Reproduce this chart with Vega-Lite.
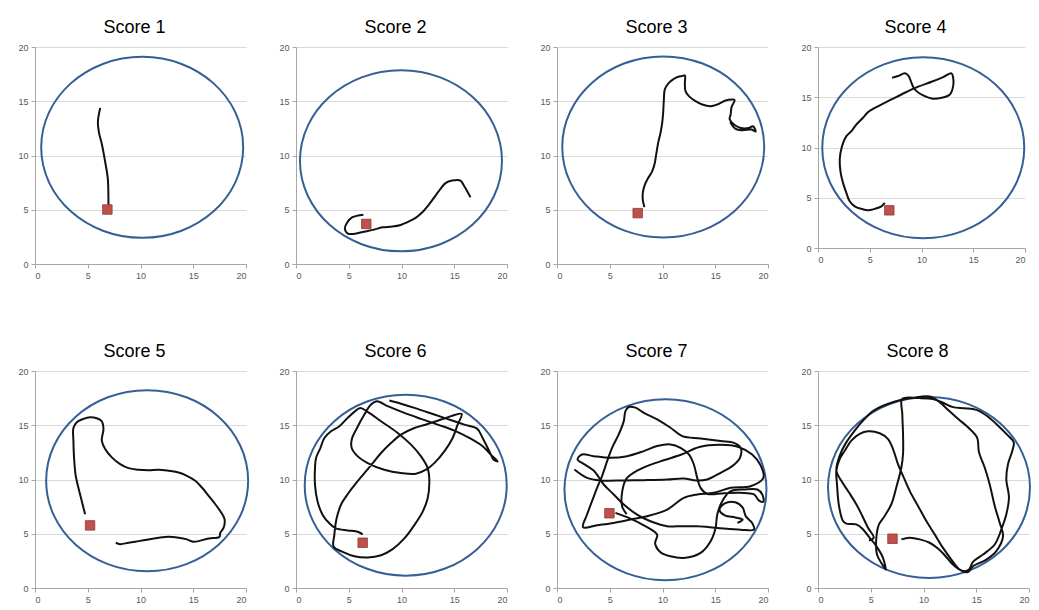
{
"$schema":"https://vega.github.io/schema/vega-lite/v6.json",
"background":"white",
"padding":{"left":17,"top":19,"right":5,"bottom":5},
"columns":4,
"spacing":{"row":107,"column":50},
"bounds":"flush",
"datasets":{
"arenas":[
{"panel":1,"cx":10.16,"cy":10.75,"mx":6.86,"my":5.02},
{"panel":2,"cx":9.95,"cy":9.51,"mx":6.66,"my":3.69},
{"panel":3,"cx":10.07,"cy":10.79,"mx":7.65,"my":4.69},
{"panel":4,"cx":10.17,"cy":9.97,"mx":6.89,"my":3.75},
{"panel":5,"cx":10.63,"cy":9.89,"mx":5.22,"my":5.77},
{"panel":6,"cx":10.4,"cy":9.48,"mx":6.32,"my":4.17},
{"panel":7,"cx":10.28,"cy":9.06,"mx":4.97,"my":6.89},
{"panel":8,"cx":10.52,"cy":9.26,"mx":7.06,"my":4.54}],
"p1":[{"i":1,"x":6.18,"y":14.39},{"i":2,"x":5.96,"y":13.1},{"i":3,"x":6.05,"y":12.18},{"i":4,"x":6.36,"y":10.95},{"i":5,"x":6.65,"y":9.42},{"i":6,"x":6.9,"y":7.88},{"i":7,"x":6.96,"y":6.04},{"i":8,"x":6.96,"y":5.12}],
"p2":[{"i":1,"x":6.39,"y":4.55},{"i":2,"x":5.35,"y":4.31},{"i":3,"x":4.82,"y":3.78},{"i":4,"x":4.63,"y":3.23},{"i":5,"x":4.88,"y":2.83},{"i":6,"x":5.45,"y":2.77},{"i":7,"x":6.46,"y":2.98},{"i":8,"x":7.4,"y":3.17},{"i":9,"x":8.19,"y":3.38},{"i":10,"x":9.13,"y":3.45},{"i":11,"x":9.92,"y":3.6},{"i":12,"x":10.55,"y":3.85},{"i":13,"x":11.34,"y":4.25},{"i":14,"x":11.97,"y":4.77},{"i":15,"x":12.6,"y":5.48},{"i":16,"x":13.23,"y":6.31},{"i":17,"x":13.7,"y":6.92},{"i":18,"x":14.17,"y":7.45},{"i":19,"x":14.8,"y":7.69},{"i":20,"x":15.59,"y":7.69},{"i":21,"x":15.91,"y":7.23},{"i":22,"x":16.28,"y":6.62},{"i":23,"x":16.54,"y":6.15}],
"p3":[{"i":1,"x":8.29,"y":5.24},{"i":2,"x":8.13,"y":5.92},{"i":3,"x":8.13,"y":6.53},{"i":4,"x":8.32,"y":7.3},{"i":5,"x":8.64,"y":7.92},{"i":6,"x":9.02,"y":8.54},{"i":7,"x":9.27,"y":9.31},{"i":8,"x":9.4,"y":10.08},{"i":9,"x":9.59,"y":11.16},{"i":10,"x":9.81,"y":12.08},{"i":11,"x":9.97,"y":13.0},{"i":12,"x":10.06,"y":13.93},{"i":13,"x":10.13,"y":15.16},{"i":14,"x":10.22,"y":16.09},{"i":15,"x":10.6,"y":16.7},{"i":16,"x":11.08,"y":17.07},{"i":17,"x":11.49,"y":17.26},{"i":18,"x":11.87,"y":17.32},{"i":19,"x":12.12,"y":17.38},{"i":20,"x":12.12,"y":16.7},{"i":21,"x":12.18,"y":15.93},{"i":22,"x":12.5,"y":15.47},{"i":23,"x":13.13,"y":15.01},{"i":24,"x":13.77,"y":14.7},{"i":25,"x":14.56,"y":14.55},{"i":26,"x":15.19,"y":14.7},{"i":27,"x":15.98,"y":15.07},{"i":28,"x":16.61,"y":15.16},{"i":29,"x":16.84,"y":15.1},{"i":30,"x":16.55,"y":14.48},{"i":31,"x":16.46,"y":13.78},{"i":32,"x":16.36,"y":13.37},{"i":33,"x":16.77,"y":12.85},{"i":34,"x":17.41,"y":12.54},{"i":35,"x":18.2,"y":12.54},{"i":36,"x":18.58,"y":12.7},{"i":37,"x":18.83,"y":12.2},{"i":38,"x":18.45,"y":12.39},{"i":39,"x":17.56,"y":12.33},{"i":40,"x":16.93,"y":12.45},{"i":41,"x":16.42,"y":13.07}],
"p4":[{"i":1,"x":6.45,"y":4.49},{"i":2,"x":6.13,"y":4.15},{"i":3,"x":5.48,"y":3.89},{"i":4,"x":4.84,"y":3.75},{"i":5,"x":4.19,"y":3.89},{"i":6,"x":3.55,"y":4.15},{"i":7,"x":3.06,"y":4.65},{"i":8,"x":2.74,"y":5.48},{"i":9,"x":2.42,"y":6.48},{"i":10,"x":2.19,"y":7.48},{"i":11,"x":2.1,"y":8.8},{"i":12,"x":2.32,"y":10.13},{"i":13,"x":2.74,"y":11.13},{"i":14,"x":3.23,"y":11.63},{"i":15,"x":3.71,"y":12.29},{"i":16,"x":4.35,"y":12.96},{"i":17,"x":4.84,"y":13.52},{"i":18,"x":5.97,"y":14.19},{"i":19,"x":7.1,"y":14.78},{"i":20,"x":8.39,"y":15.45},{"i":21,"x":9.68,"y":16.05},{"i":22,"x":10.97,"y":16.54},{"i":23,"x":12.1,"y":17.01},{"i":24,"x":12.9,"y":17.38},{"i":25,"x":13.06,"y":16.94},{"i":26,"x":13.06,"y":16.11},{"i":27,"x":12.74,"y":15.28},{"i":28,"x":11.94,"y":14.95},{"i":29,"x":10.97,"y":14.88},{"i":30,"x":10.16,"y":15.18},{"i":31,"x":9.52,"y":15.61},{"i":32,"x":9.19,"y":16.05},{"i":33,"x":8.97,"y":16.61},{"i":34,"x":8.71,"y":17.18},{"i":35,"x":8.39,"y":17.38},{"i":36,"x":7.74,"y":17.11},{"i":37,"x":7.16,"y":16.94}],
"p5":[{"i":1,"x":4.75,"y":6.79},{"i":2,"x":4.43,"y":8.02},{"i":3,"x":4.11,"y":9.26},{"i":4,"x":3.86,"y":10.34},{"i":5,"x":3.7,"y":12.04},{"i":6,"x":3.64,"y":13.58},{"i":7,"x":3.64,"y":14.75},{"i":8,"x":3.96,"y":15.28},{"i":9,"x":4.59,"y":15.59},{"i":10,"x":5.22,"y":15.74},{"i":11,"x":5.85,"y":15.65},{"i":12,"x":6.33,"y":15.37},{"i":13,"x":6.49,"y":14.66},{"i":14,"x":6.33,"y":13.58},{"i":15,"x":6.65,"y":12.81},{"i":16,"x":7.28,"y":12.04},{"i":17,"x":8.07,"y":11.42},{"i":18,"x":8.86,"y":11.05},{"i":19,"x":9.81,"y":10.9},{"i":20,"x":10.76,"y":10.86},{"i":21,"x":11.71,"y":10.9},{"i":22,"x":12.66,"y":10.8},{"i":23,"x":13.61,"y":10.65},{"i":24,"x":14.4,"y":10.34},{"i":25,"x":15.19,"y":9.88},{"i":26,"x":15.82,"y":9.26},{"i":27,"x":16.46,"y":8.49},{"i":28,"x":17.09,"y":7.72},{"i":29,"x":17.66,"y":6.94},{"i":30,"x":17.97,"y":6.33},{"i":31,"x":17.88,"y":5.56},{"i":32,"x":17.56,"y":5.09},{"i":33,"x":17.47,"y":4.69},{"i":34,"x":16.46,"y":4.57},{"i":35,"x":15.51,"y":4.32},{"i":36,"x":15.03,"y":4.26},{"i":37,"x":14.4,"y":4.48},{"i":38,"x":13.61,"y":4.63},{"i":39,"x":12.66,"y":4.72},{"i":40,"x":11.71,"y":4.63},{"i":41,"x":10.76,"y":4.48},{"i":42,"x":9.81,"y":4.32},{"i":43,"x":8.86,"y":4.17},{"i":44,"x":8.07,"y":4.04},{"i":45,"x":7.66,"y":4.17}],
"p6":[{"i":1,"x":6.32,"y":4.94},{"i":2,"x":5.85,"y":5.19},{"i":3,"x":4.9,"y":5.31},{"i":4,"x":3.79,"y":5.49},{"i":5,"x":3.16,"y":5.96},{"i":6,"x":2.53,"y":6.73},{"i":7,"x":2.05,"y":7.96},{"i":8,"x":1.8,"y":9.51},{"i":9,"x":1.8,"y":11.05},{"i":10,"x":1.9,"y":11.98},{"i":11,"x":2.31,"y":12.9},{"i":12,"x":2.69,"y":13.83},{"i":13,"x":3.32,"y":14.44},{"i":14,"x":4.11,"y":14.91},{"i":15,"x":4.9,"y":15.68},{"i":16,"x":5.53,"y":16.23},{"i":17,"x":6.1,"y":16.6},{"i":18,"x":6.79,"y":16.23},{"i":19,"x":8.06,"y":15.37},{"i":20,"x":9.64,"y":14.29},{"i":21,"x":10.9,"y":13.21},{"i":22,"x":11.85,"y":12.13},{"i":23,"x":12.48,"y":11.05},{"i":24,"x":12.64,"y":9.81},{"i":25,"x":12.48,"y":8.27},{"i":26,"x":12.01,"y":7.04},{"i":27,"x":11.22,"y":5.8},{"i":28,"x":10.27,"y":4.57},{"i":29,"x":9.16,"y":3.58},{"i":30,"x":8.06,"y":3.02},{"i":31,"x":6.79,"y":2.81},{"i":32,"x":5.53,"y":2.93},{"i":33,"x":4.42,"y":3.33},{"i":34,"x":3.57,"y":3.8},{"i":35,"x":3.63,"y":4.88},{"i":36,"x":3.85,"y":6.42},{"i":37,"x":4.33,"y":7.81},{"i":38,"x":4.96,"y":8.73},{"i":39,"x":5.69,"y":9.66},{"i":40,"x":6.48,"y":10.59},{"i":41,"x":7.27,"y":11.51},{"i":42,"x":8.06,"y":12.44},{"i":43,"x":9.0,"y":13.36},{"i":44,"x":9.95,"y":14.14},{"i":45,"x":11.22,"y":14.75},{"i":46,"x":12.48,"y":15.12},{"i":47,"x":14.06,"y":15.62},{"i":48,"x":15.7,"y":16.05},{"i":49,"x":15.32,"y":15.06},{"i":50,"x":14.85,"y":13.83},{"i":51,"x":14.06,"y":12.59},{"i":52,"x":13.11,"y":11.51},{"i":53,"x":12.32,"y":10.9},{"i":54,"x":11.37,"y":10.52},{"i":55,"x":9.95,"y":10.59},{"i":56,"x":8.37,"y":10.9},{"i":57,"x":6.79,"y":11.51},{"i":58,"x":5.85,"y":12.13},{"i":59,"x":5.28,"y":12.9},{"i":60,"x":5.28,"y":13.67},{"i":61,"x":5.78,"y":14.75},{"i":62,"x":6.48,"y":15.99},{"i":63,"x":7.11,"y":16.91},{"i":64,"x":7.68,"y":17.22},{"i":65,"x":8.69,"y":16.76},{"i":66,"x":10.27,"y":16.14},{"i":67,"x":11.85,"y":15.59},{"i":68,"x":13.43,"y":15.06},{"i":69,"x":15.01,"y":14.51},{"i":70,"x":16.43,"y":13.83},{"i":71,"x":17.69,"y":13.06},{"i":72,"x":18.48,"y":12.28},{"i":73,"x":19.12,"y":11.67},{"i":74,"x":18.74,"y":11.82},{"i":75,"x":18.33,"y":12.59},{"i":76,"x":17.69,"y":13.83},{"i":77,"x":17.16,"y":14.69},{"i":78,"x":15.96,"y":15.06},{"i":79,"x":15.01,"y":15.37},{"i":80,"x":13.11,"y":15.99},{"i":81,"x":11.22,"y":16.6},{"i":82,"x":9.95,"y":16.98},{"i":83,"x":8.85,"y":17.28}],
"p7":[{"s":1,"i":1,"x":5.54,"y":6.92},{"s":1,"i":2,"x":6.96,"y":6.4},{"s":1,"i":3,"x":8.23,"y":5.78},{"s":1,"i":4,"x":9.49,"y":4.92},{"s":1,"i":5,"x":9.3,"y":4.1},{"s":1,"i":6,"x":9.81,"y":3.3},{"s":1,"i":7,"x":10.76,"y":2.92},{"s":1,"i":8,"x":12.03,"y":2.77},{"s":1,"i":9,"x":13.61,"y":3.23},{"s":1,"i":10,"x":14.56,"y":4.31},{"s":1,"i":11,"x":15.03,"y":5.54},{"s":1,"i":12,"x":15.19,"y":6.77},{"s":1,"i":13,"x":15.66,"y":8.0},{"s":1,"i":14,"x":16.46,"y":8.92},{"s":1,"i":15,"x":17.72,"y":9.08},{"s":1,"i":16,"x":18.99,"y":9.08},{"s":1,"i":17,"x":19.46,"y":8.62},{"s":1,"i":18,"x":19.56,"y":7.94},{"s":1,"i":19,"x":19.15,"y":8.06},{"s":1,"i":20,"x":18.67,"y":8.62},{"s":1,"i":21,"x":17.41,"y":8.77},{"s":1,"i":22,"x":15.82,"y":8.74},{"s":1,"i":23,"x":14.24,"y":8.68},{"s":1,"i":24,"x":13.61,"y":9.23},{"s":1,"i":25,"x":13.29,"y":10.15},{"s":1,"i":26,"x":12.97,"y":11.38},{"s":1,"i":27,"x":12.5,"y":12.31},{"s":1,"i":28,"x":11.71,"y":12.92},{"s":1,"i":29,"x":10.76,"y":13.23},{"s":1,"i":30,"x":9.49,"y":13.08},{"s":1,"i":31,"x":8.23,"y":12.62},{"s":1,"i":32,"x":6.65,"y":12.15},{"s":1,"i":33,"x":5.06,"y":12.0},{"s":1,"i":34,"x":3.48,"y":12.15},{"s":1,"i":35,"x":2.37,"y":12.31},{"s":1,"i":36,"x":1.95,"y":11.85},{"s":1,"i":37,"x":2.6,"y":11.4},{"s":1,"i":38,"x":3.5,"y":10.8},{"s":1,"i":39,"x":4.43,"y":9.54},{"s":1,"i":40,"x":5.38,"y":8.62},{"s":1,"i":41,"x":6.33,"y":7.69},{"s":1,"i":42,"x":7.59,"y":6.77},{"s":1,"i":43,"x":8.86,"y":6.15},{"s":1,"i":44,"x":10.44,"y":5.69},{"s":1,"i":45,"x":11.39,"y":5.69},{"s":1,"i":46,"x":13.29,"y":5.69},{"s":1,"i":47,"x":15.19,"y":5.54},{"s":1,"i":48,"x":17.41,"y":5.38},{"s":1,"i":49,"x":18.67,"y":5.38},{"s":1,"i":50,"x":18.5,"y":6.0},{"s":1,"i":51,"x":17.9,"y":6.6},{"s":1,"i":52,"x":17.6,"y":7.4},{"s":1,"i":53,"x":16.9,"y":7.9},{"s":1,"i":54,"x":15.9,"y":7.8},{"s":1,"i":55,"x":15.4,"y":7.2},{"s":1,"i":56,"x":15.9,"y":6.7},{"s":1,"i":57,"x":16.9,"y":6.5},{"s":1,"i":58,"x":17.6,"y":6.3},{"s":1,"i":59,"x":17.1,"y":6.0},
{"s":2,"i":1,"x":1.65,"y":10.92},{"s":2,"i":2,"x":2.85,"y":10.15},{"s":2,"i":3,"x":4.11,"y":9.91},{"s":2,"i":4,"x":6.33,"y":9.91},{"s":2,"i":5,"x":8.23,"y":9.94},{"s":2,"i":6,"x":10.44,"y":10.0},{"s":2,"i":7,"x":12.0,"y":10.1},{"s":2,"i":8,"x":13.2,"y":9.9},{"s":2,"i":9,"x":14.24,"y":10.0},{"s":2,"i":10,"x":15.51,"y":10.62},{"s":2,"i":11,"x":16.61,"y":11.23},{"s":2,"i":12,"x":17.34,"y":12.0},{"s":2,"i":13,"x":17.41,"y":12.92},{"s":2,"i":14,"x":16.77,"y":13.38},{"s":2,"i":15,"x":15.51,"y":13.54},{"s":2,"i":16,"x":13.61,"y":13.78},{"s":2,"i":17,"x":11.87,"y":14.0},{"s":2,"i":18,"x":10.76,"y":14.77},{"s":2,"i":19,"x":9.49,"y":15.54},{"s":2,"i":20,"x":8.23,"y":16.15},{"s":2,"i":21,"x":7.44,"y":16.62},{"s":2,"i":22,"x":6.8,"y":16.68},{"s":2,"i":23,"x":6.49,"y":16.31},{"s":2,"i":24,"x":6.33,"y":15.38},{"s":2,"i":25,"x":5.85,"y":14.15},{"s":2,"i":26,"x":5.22,"y":12.92},{"s":2,"i":27,"x":4.75,"y":11.69},{"s":2,"i":28,"x":4.27,"y":10.31},{"s":2,"i":29,"x":3.8,"y":9.23},{"s":2,"i":30,"x":3.32,"y":8.0},{"s":2,"i":31,"x":2.85,"y":6.77},{"s":2,"i":32,"x":2.47,"y":5.6},{"s":2,"i":33,"x":3.8,"y":5.78},{"s":2,"i":34,"x":5.38,"y":6.0},{"s":2,"i":35,"x":6.96,"y":6.31},{"s":2,"i":36,"x":8.54,"y":6.62},{"s":2,"i":37,"x":10.44,"y":7.23},{"s":2,"i":38,"x":12.03,"y":8.31},{"s":2,"i":39,"x":13.29,"y":8.62},{"s":2,"i":40,"x":14.87,"y":8.77},{"s":2,"i":41,"x":16.46,"y":9.23},{"s":2,"i":42,"x":18.35,"y":9.38},{"s":2,"i":43,"x":19.56,"y":10.15},{"s":2,"i":44,"x":19.3,"y":11.3},{"s":2,"i":45,"x":18.5,"y":12.3},{"s":2,"i":46,"x":17.2,"y":13.0},{"s":2,"i":47,"x":15.5,"y":13.2},{"s":2,"i":48,"x":13.5,"y":13.0},{"s":2,"i":49,"x":11.8,"y":12.3},{"s":2,"i":50,"x":10.2,"y":11.8},{"s":2,"i":51,"x":8.7,"y":11.3},{"s":2,"i":52,"x":7.4,"y":10.7},{"s":2,"i":53,"x":6.6,"y":10.1},{"s":2,"i":54,"x":6.2,"y":9.0},{"s":2,"i":55,"x":6.17,"y":7.54},{"s":2,"i":56,"x":6.6,"y":6.8}],
"p8":[{"i":1,"x":7.9,"y":4.48},{"i":2,"x":8.69,"y":4.63},{"i":3,"x":9.64,"y":4.48},{"i":4,"x":10.58,"y":4.17},{"i":5,"x":11.37,"y":3.64},{"i":6,"x":12.01,"y":3.02},{"i":7,"x":12.64,"y":2.31},{"i":8,"x":13.27,"y":1.79},{"i":9,"x":13.9,"y":1.54},{"i":10,"x":14.31,"y":1.7},{"i":11,"x":14.69,"y":2.41},{"i":12,"x":15.64,"y":3.09},{"i":13,"x":16.75,"y":4.01},{"i":14,"x":17.38,"y":5.4},{"i":15,"x":17.85,"y":6.79},{"i":16,"x":18.1,"y":8.33},{"i":17,"x":17.85,"y":10.03},{"i":18,"x":18.01,"y":11.42},{"i":19,"x":18.42,"y":12.65},{"i":20,"x":18.55,"y":13.43},{"i":21,"x":17.85,"y":14.2},{"i":22,"x":16.9,"y":15.12},{"i":23,"x":15.96,"y":15.9},{"i":24,"x":15.01,"y":16.42},{"i":25,"x":13.9,"y":16.57},{"i":26,"x":12.8,"y":16.67},{"i":27,"x":11.85,"y":17.07},{"i":28,"x":10.9,"y":17.41},{"i":29,"x":9.64,"y":17.5},{"i":30,"x":7.99,"y":17.44},{"i":31,"x":7.99,"y":16.05},{"i":32,"x":8.06,"y":14.2},{"i":33,"x":8.06,"y":12.35},{"i":34,"x":7.9,"y":11.11},{"i":35,"x":7.42,"y":9.26},{"i":36,"x":6.95,"y":7.72},{"i":37,"x":6.32,"y":6.64},{"i":38,"x":5.78,"y":5.86},{"i":39,"x":5.53,"y":4.63},{"i":40,"x":5.59,"y":3.09},{"i":41,"x":6.1,"y":2.16},{"i":42,"x":6.41,"y":1.7},{"i":43,"x":6.16,"y":2.78},{"i":44,"x":5.53,"y":3.86},{"i":45,"x":4.9,"y":4.63},{"i":46,"x":4.27,"y":5.4},{"i":47,"x":3.63,"y":5.86},{"i":48,"x":2.69,"y":5.93},{"i":49,"x":2.37,"y":6.17},{"i":50,"x":1.99,"y":7.56},{"i":51,"x":1.8,"y":9.57},{"i":52,"x":1.74,"y":10.8},{"i":53,"x":2.05,"y":11.88},{"i":54,"x":2.53,"y":12.65},{"i":55,"x":3.16,"y":13.58},{"i":56,"x":3.95,"y":14.2},{"i":57,"x":4.74,"y":14.44},{"i":58,"x":5.85,"y":14.26},{"i":59,"x":6.64,"y":13.73},{"i":60,"x":7.11,"y":12.81},{"i":61,"x":7.58,"y":11.42},{"i":62,"x":8.06,"y":10.34},{"i":63,"x":8.69,"y":8.95},{"i":64,"x":9.48,"y":7.56},{"i":65,"x":10.27,"y":6.17},{"i":66,"x":11.06,"y":4.94},{"i":67,"x":11.85,"y":3.7},{"i":68,"x":12.64,"y":2.62},{"i":69,"x":13.43,"y":1.7},{"i":70,"x":14.22,"y":1.48},{"i":71,"x":14.69,"y":2.01},{"i":72,"x":15.96,"y":2.62},{"i":73,"x":16.9,"y":3.4},{"i":74,"x":17.54,"y":4.78},{"i":75,"x":17.22,"y":6.02},{"i":76,"x":16.75,"y":7.56},{"i":77,"x":16.27,"y":9.57},{"i":78,"x":15.8,"y":11.11},{"i":79,"x":15.26,"y":12.5},{"i":80,"x":15.07,"y":13.89},{"i":81,"x":14.22,"y":14.81},{"i":82,"x":13.27,"y":15.59},{"i":83,"x":12.32,"y":16.42},{"i":84,"x":11.53,"y":17.13},{"i":85,"x":10.58,"y":17.65},{"i":86,"x":9.0,"y":17.53},{"i":87,"x":7.9,"y":17.35},{"i":88,"x":6.48,"y":16.91},{"i":89,"x":5.21,"y":16.3},{"i":90,"x":4.33,"y":15.49},{"i":91,"x":3.48,"y":14.51},{"i":92,"x":2.62,"y":13.33},{"i":93,"x":2.05,"y":12.19},{"i":94,"x":1.74,"y":10.8},{"i":95,"x":2.21,"y":9.88},{"i":96,"x":2.94,"y":8.8},{"i":97,"x":3.63,"y":7.72},{"i":98,"x":4.2,"y":6.64},{"i":99,"x":4.74,"y":5.56},{"i":100,"x":5.28,"y":4.63},{"i":101,"x":4.83,"y":4.38}]
},
"concat":[
{"width":211,"height":217,"title":"Score 1","layer":[
{"data":{"name":"arenas"},"transform":[{"filter":"datum.panel == 1"}],"mark":{"type":"point","shape":"M1,0C1,0.4948 0.5523,0.896 0,0.896C-0.5523,0.896 -1,0.4948 -1,0C-1,-0.4948 -0.5523,-0.896 0,-0.896C0.5523,-0.896 1,-0.4948 1,0Z","size":40804,"filled":false,"stroke":"#365f96","strokeWidth":2,"opacity":1},"encoding":{"x":{"field":"cx","type":"quantitative","title":null,"scale":{"domain":[0,20]}},"y":{"field":"cy","type":"quantitative","title":null,"scale":{"domain":[0,20]}}}},
{"data":{"name":"p1"},"mark":{"type":"line","color":"#111111","strokeWidth":2,"interpolate":"catmull-rom"},"encoding":{"x":{"field":"x","type":"quantitative","title":null},"y":{"field":"y","type":"quantitative","title":null},"order":{"field":"i","type":"quantitative"}}},
{"data":{"name":"arenas"},"transform":[{"filter":"datum.panel == 1"}],"mark":{"type":"square","size":90,"filled":true,"fill":"#c0504d","stroke":"#8a3b39","strokeWidth":0.8,"opacity":1},"encoding":{"x":{"field":"mx","type":"quantitative","title":null},"y":{"field":"my","type":"quantitative","title":null}}}]},
{"width":211,"height":217,"title":"Score 2","layer":[
{"data":{"name":"arenas"},"transform":[{"filter":"datum.panel == 2"}],"mark":{"type":"point","shape":"M1,0C1,0.4948 0.5523,0.896 0,0.896C-0.5523,0.896 -1,0.4948 -1,0C-1,-0.4948 -0.5523,-0.896 0,-0.896C0.5523,-0.896 1,-0.4948 1,0Z","size":40804,"filled":false,"stroke":"#365f96","strokeWidth":2,"opacity":1},"encoding":{"x":{"field":"cx","type":"quantitative","title":null,"scale":{"domain":[0,20]}},"y":{"field":"cy","type":"quantitative","title":null,"scale":{"domain":[0,20]}}}},
{"data":{"name":"p2"},"mark":{"type":"line","color":"#111111","strokeWidth":2,"interpolate":"catmull-rom"},"encoding":{"x":{"field":"x","type":"quantitative","title":null},"y":{"field":"y","type":"quantitative","title":null},"order":{"field":"i","type":"quantitative"}}},
{"data":{"name":"arenas"},"transform":[{"filter":"datum.panel == 2"}],"mark":{"type":"square","size":90,"filled":true,"fill":"#c0504d","stroke":"#8a3b39","strokeWidth":0.8,"opacity":1},"encoding":{"x":{"field":"mx","type":"quantitative","title":null},"y":{"field":"my","type":"quantitative","title":null}}}]},
{"width":211,"height":217,"title":"Score 3","layer":[
{"data":{"name":"arenas"},"transform":[{"filter":"datum.panel == 3"}],"mark":{"type":"point","shape":"M1,0C1,0.4948 0.5523,0.896 0,0.896C-0.5523,0.896 -1,0.4948 -1,0C-1,-0.4948 -0.5523,-0.896 0,-0.896C0.5523,-0.896 1,-0.4948 1,0Z","size":40804,"filled":false,"stroke":"#365f96","strokeWidth":2,"opacity":1},"encoding":{"x":{"field":"cx","type":"quantitative","title":null,"scale":{"domain":[0,20]}},"y":{"field":"cy","type":"quantitative","title":null,"scale":{"domain":[0,20]}}}},
{"data":{"name":"p3"},"mark":{"type":"line","color":"#111111","strokeWidth":2,"interpolate":"catmull-rom"},"encoding":{"x":{"field":"x","type":"quantitative","title":null},"y":{"field":"y","type":"quantitative","title":null},"order":{"field":"i","type":"quantitative"}}},
{"data":{"name":"arenas"},"transform":[{"filter":"datum.panel == 3"}],"mark":{"type":"square","size":90,"filled":true,"fill":"#c0504d","stroke":"#8a3b39","strokeWidth":0.8,"opacity":1},"encoding":{"x":{"field":"mx","type":"quantitative","title":null},"y":{"field":"my","type":"quantitative","title":null}}}]},
{"width":207,"height":201,"title":"Score 4","layer":[
{"data":{"name":"arenas"},"transform":[{"filter":"datum.panel == 4"}],"mark":{"type":"point","shape":"M1,0C1,0.4948 0.5523,0.896 0,0.896C-0.5523,0.896 -1,0.4948 -1,0C-1,-0.4948 -0.5523,-0.896 0,-0.896C0.5523,-0.896 1,-0.4948 1,0Z","size":40804,"filled":false,"stroke":"#365f96","strokeWidth":2,"opacity":1},"encoding":{"x":{"field":"cx","type":"quantitative","title":null,"scale":{"domain":[0,20]}},"y":{"field":"cy","type":"quantitative","title":null,"scale":{"domain":[0,20]}}}},
{"data":{"name":"p4"},"mark":{"type":"line","color":"#111111","strokeWidth":2,"interpolate":"catmull-rom"},"encoding":{"x":{"field":"x","type":"quantitative","title":null},"y":{"field":"y","type":"quantitative","title":null},"order":{"field":"i","type":"quantitative"}}},
{"data":{"name":"arenas"},"transform":[{"filter":"datum.panel == 4"}],"mark":{"type":"square","size":90,"filled":true,"fill":"#c0504d","stroke":"#8a3b39","strokeWidth":0.8,"opacity":1},"encoding":{"x":{"field":"mx","type":"quantitative","title":null},"y":{"field":"my","type":"quantitative","title":null}}}]},
{"width":211,"height":217,"title":"Score 5","layer":[
{"data":{"name":"arenas"},"transform":[{"filter":"datum.panel == 5"}],"mark":{"type":"point","shape":"M1,0C1,0.4948 0.5523,0.896 0,0.896C-0.5523,0.896 -1,0.4948 -1,0C-1,-0.4948 -0.5523,-0.896 0,-0.896C0.5523,-0.896 1,-0.4948 1,0Z","size":40804,"filled":false,"stroke":"#365f96","strokeWidth":2,"opacity":1},"encoding":{"x":{"field":"cx","type":"quantitative","title":null,"scale":{"domain":[0,20]}},"y":{"field":"cy","type":"quantitative","title":null,"scale":{"domain":[0,20]}}}},
{"data":{"name":"p5"},"mark":{"type":"line","color":"#111111","strokeWidth":2,"interpolate":"catmull-rom"},"encoding":{"x":{"field":"x","type":"quantitative","title":null},"y":{"field":"y","type":"quantitative","title":null},"order":{"field":"i","type":"quantitative"}}},
{"data":{"name":"arenas"},"transform":[{"filter":"datum.panel == 5"}],"mark":{"type":"square","size":90,"filled":true,"fill":"#c0504d","stroke":"#8a3b39","strokeWidth":0.8,"opacity":1},"encoding":{"x":{"field":"mx","type":"quantitative","title":null},"y":{"field":"my","type":"quantitative","title":null}}}]},
{"width":211,"height":217,"title":"Score 6","layer":[
{"data":{"name":"arenas"},"transform":[{"filter":"datum.panel == 6"}],"mark":{"type":"point","shape":"M1,0C1,0.4948 0.5523,0.896 0,0.896C-0.5523,0.896 -1,0.4948 -1,0C-1,-0.4948 -0.5523,-0.896 0,-0.896C0.5523,-0.896 1,-0.4948 1,0Z","size":40804,"filled":false,"stroke":"#365f96","strokeWidth":2,"opacity":1},"encoding":{"x":{"field":"cx","type":"quantitative","title":null,"scale":{"domain":[0,20]}},"y":{"field":"cy","type":"quantitative","title":null,"scale":{"domain":[0,20]}}}},
{"data":{"name":"p6"},"mark":{"type":"line","color":"#111111","strokeWidth":2,"interpolate":"catmull-rom"},"encoding":{"x":{"field":"x","type":"quantitative","title":null},"y":{"field":"y","type":"quantitative","title":null},"order":{"field":"i","type":"quantitative"}}},
{"data":{"name":"arenas"},"transform":[{"filter":"datum.panel == 6"}],"mark":{"type":"square","size":90,"filled":true,"fill":"#c0504d","stroke":"#8a3b39","strokeWidth":0.8,"opacity":1},"encoding":{"x":{"field":"mx","type":"quantitative","title":null},"y":{"field":"my","type":"quantitative","title":null}}}]},
{"width":211,"height":217,"title":"Score 7","layer":[
{"data":{"name":"arenas"},"transform":[{"filter":"datum.panel == 7"}],"mark":{"type":"point","shape":"M1,0C1,0.4948 0.5523,0.896 0,0.896C-0.5523,0.896 -1,0.4948 -1,0C-1,-0.4948 -0.5523,-0.896 0,-0.896C0.5523,-0.896 1,-0.4948 1,0Z","size":40804,"filled":false,"stroke":"#365f96","strokeWidth":2,"opacity":1},"encoding":{"x":{"field":"cx","type":"quantitative","title":null,"scale":{"domain":[0,20]}},"y":{"field":"cy","type":"quantitative","title":null,"scale":{"domain":[0,20]}}}},
{"data":{"name":"p7"},"mark":{"type":"line","color":"#111111","strokeWidth":2,"interpolate":"catmull-rom"},"encoding":{"x":{"field":"x","type":"quantitative","title":null},"y":{"field":"y","type":"quantitative","title":null},"detail":{"field":"s","type":"nominal"},"order":{"field":"i","type":"quantitative"}}},
{"data":{"name":"arenas"},"transform":[{"filter":"datum.panel == 7"}],"mark":{"type":"square","size":90,"filled":true,"fill":"#c0504d","stroke":"#8a3b39","strokeWidth":0.8,"opacity":1},"encoding":{"x":{"field":"mx","type":"quantitative","title":null},"y":{"field":"my","type":"quantitative","title":null}}}]},
{"width":211,"height":217,"title":"Score 8","layer":[
{"data":{"name":"arenas"},"transform":[{"filter":"datum.panel == 8"}],"mark":{"type":"point","shape":"M1,0C1,0.4948 0.5523,0.896 0,0.896C-0.5523,0.896 -1,0.4948 -1,0C-1,-0.4948 -0.5523,-0.896 0,-0.896C0.5523,-0.896 1,-0.4948 1,0Z","size":40804,"filled":false,"stroke":"#365f96","strokeWidth":2,"opacity":1},"encoding":{"x":{"field":"cx","type":"quantitative","title":null,"scale":{"domain":[0,20]}},"y":{"field":"cy","type":"quantitative","title":null,"scale":{"domain":[0,20]}}}},
{"data":{"name":"p8"},"mark":{"type":"line","color":"#111111","strokeWidth":2,"interpolate":"catmull-rom"},"encoding":{"x":{"field":"x","type":"quantitative","title":null},"y":{"field":"y","type":"quantitative","title":null},"order":{"field":"i","type":"quantitative"}}},
{"data":{"name":"arenas"},"transform":[{"filter":"datum.panel == 8"}],"mark":{"type":"square","size":90,"filled":true,"fill":"#c0504d","stroke":"#8a3b39","strokeWidth":0.8,"opacity":1},"encoding":{"x":{"field":"mx","type":"quantitative","title":null},"y":{"field":"my","type":"quantitative","title":null}}}]}
],
"config":{
"view":{"stroke":null},
"axis":{"tickCount":4,"domainColor":"#a6a6a6","tickColor":"#a6a6a6","tickSize":4,"labelColor":"#595959","labelFontSize":9,"labelFont":"Liberation Sans","gridColor":"#d9d9d9","gridWidth":1},
"axisX":{"grid":false,"labelPadding":3},
"axisY":{"grid":true,"labelPadding":3},
"title":{"fontSize":18,"font":"Liberation Sans","fontWeight":"normal","color":"#000000","offset":6,"dx":-6}
}
}
